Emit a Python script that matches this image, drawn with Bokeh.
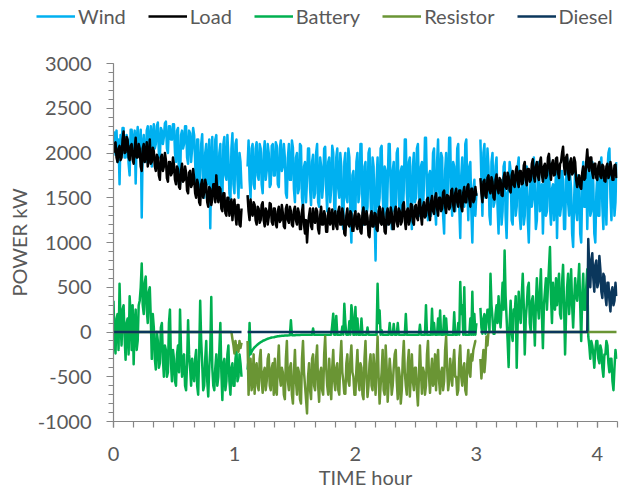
import numpy as np
from bokeh.plotting import figure
from bokeh.models import Range1d, FixedTicker, Legend, LegendItem
from bokeh.embed import file_html
from bokeh.resources import INLINE

# ---------------- data: 30-second samples (120 per hour), 500 samples ----------------
samples_per_hour = 120

wind = [
    2050, 2230, 1980, 2250, 1900, 2150, 1650, 2200, 2100, 2280, 2280, 1950, 1950, 2200, 2150, 1880, 1750, 2260, 2260, 2050,
    2100, 2250, 1660, 2150, 2290, 2000, 2000, 2260, 1280, 2100, 2200, 1950, 1900, 2250, 2300, 2100, 2080, 2300, 1850, 2200,
    2320, 2050, 2100, 2300, 2340, 2000, 1950, 2280, 2250, 2100, 2180, 2330, 2350, 2050, 2000, 2300, 2300, 2150, 2150, 2320,
    2320, 2000, 1900, 2250, 2280, 1650, 1650, 2200, 2250, 2050, 2100, 2300, 2300, 1950, 1880, 2250, 2220, 1900, 2050, 2280,
    2200, 1900, 1600, 2150, 2150, 1550, 1750, 2100, 2210, 1700, 1500, 2000, 2100, 1650, 1850, 2150, 1160, 1900, 2180, 1600,
    1550, 2150, 2200, 1600, 1650, 2000, 2100, 1500, 1450, 2100, 2180, 1750, 1700, 2200, 1950, 1550, 1480, 2050, 2220, 1650,
    1550, 2100, 2150, 1700, 1500, 2000, 1900, 1600, None, None, None, None, None, 1850, 2140, 1700, 1500, 2050, 2100, 1650,
    1600, 2050, 2120, 1750, 1700, 2100, 2050, 1650, 1550, 2000, 2130, 1700, 1800, 2100, 2000, 1620, 1650, 2080, 2100, 1750,
    1750, 2120, 2080, 1650, 1620, 2050, 2140, 1800, 1850, 2100, 1950, 1550, 1500, 1950, 2100, 1700, 1700, 2140, 2060, 1600,
    1450, 1950, 2000, 1550, 1600, 2100, 2080, 1500, 1380, 1850, 1900, 1450, 1700, 2050, 2050, 1600, 1420, 1900, 1980, 1500,
    1550, 2000, 2100, 1450, 1400, 1950, 1850, 1500, 1650, 2050, 2070, 1600, 1350, 1900, 1950, 1450, 1600, 2080, 2000, 1400,
    1300, 1950, 2050, 1600, 1500, 2000, 1850, 1250, 1150, 1900, 2000, 1500, 1450, 2050, 1950, 1300, 1000, 1750, 1800, 1350,
    1350, 1900, 2000, 1450, 1550, 2100, 2100, 1400, 1200, 1850, 1900, 1300, 1400, 2000, 2050, 1500, 1250, 1950, 1850, 1300,
    800, 1700, 1950, 1400, 1500, 2050, 2080, 1550, 1300, 1850, 1800, 1200, 1650, 2100, 2100, 1600, 1150, 1800, 1900, 1350,
    1400, 2000, 2050, 1500, 1250, 1800, 1850, 1300, 1600, 2150, 2150, 1550, 1350, 1900, 1950, 1400, 1150, 1850, 2000, 1450,
    1500, 2050, 2100, 1550, 1300, 1850, 1900, 1350, 1650, 2170, 2170, 1600, 1250, 1750, 1800, 1300, 1550, 2000, 2050, 1400,
    1200, 1900, 2150, 1600, 1450, 2000, 1950, 1300, 1100, 1800, 2000, 1500, 1600, 2170, 2170, 1550, 1300, 1900, 1850, 1350,
    1550, 2050, 2100, 1400, 1050, 1750, 1950, 1450, 1400, 2100, 2150, 1600, 1250, 1850, 1900, 1350, 1000, 1600, 1700, 1300,
    1550, None, None, None, 2150, 1700, 1300, 2000, 2100, 1500, 1600, 2050, 1850, 1300, 1200, 1900, 2000, 1400, 1450, 1850,
    1950, 1400, 1100, 1650, 1700, 1200, 1350, 1850, 1900, 1300, 1050, 1550, 1600, 1900, 1800, 1250, 1200, 1700, 1750, 1300,
    1400, 1850, 1950, 1300, 1150, 1600, 1650, 1200, 1300, 1800, 1850, 1250, 1000, 1500, 1750, 1400, 1500, 1950, 1600, 1150,
    1250, 1800, 1900, 1350, 1450, 1650, 1100, 1500, 1800, 1300, 1350, 1850, 1950, 1400, 1200, 1600, 1650, 1250, 1500, 1800,
    1050, 1600, 1850, 1300, 1400, 1800, 1700, 1150, 1150, 1700, 1950, 1450, 1300, 1750, 1600, 1100, 950, 1500, 1800, 1350,
    1250, 1750, 1700, 1100, 1000, 1600, 1900, 1400, 1400, 1850, 1150, 1650, 1850, 1300, 1350, 1900, 1650, 1100, 1000, 1550,
    1750, 1300, 1300, 1850, 1950, 1400, 1150, 1700, 1600, 1200, 1800, 2000, 2050, 1500, 1250, 1750, 1700, 1300, 1450, 1900,
]

load = [
    2000, 2100, 2120, 1950, 1900, 2050, 2080, 1920, 1950, 2150, 2240, 2000, 2010, 2180, 2150, 1950, 1920, 2080, 2100, 1930,
    1880, 2050, 2170, 1950, 1950, 2100, 2050, 1850, 1800, 2050, 2100, 1900, 2000, 2120, 1850, 1950, 2150, 1880, 1900, 2060,
    2020, 1850, 1800, 1980, 1950, 1750, 1700, 1950, 1980, 1800, 1850, 2000, 1920, 1720, 1680, 1900, 1900, 1750, 1780, 1950,
    1870, 1700, 1650, 1850, 1820, 1620, 1600, 1800, 1880, 1680, 1700, 1850, 1780, 1580, 1550, 1780, 1800, 1620, 1650, 1820,
    1720, 1550, 1500, 1700, 1650, 1450, 1420, 1650, 1700, 1500, 1560, 1700, 1640, 1450, 1400, 1620, 1600, 1420, 1480, 1650,
    1650, 1450, 1750, 1550, 1450, 1620, 1600, 1380, 1350, 1550, 1550, 1330, 1300, 1500, 1500, 1300, 1400, 1480, 1250, 1420,
    1480, 1300, 1200, 1420, 1420, 1200, 1180, 1380, None, None, None, None, None, 1530, 1350, 1250, 1480, 1330, 1300, 1450,
    1420, 1250, 1200, 1400, 1380, 1220, 1250, 1420, 1450, 1250, 1180, 1380, 1350, 1200, 1280, 1440, 1430, 1230, 1200, 1380,
    1380, 1200, 1170, 1350, 1400, 1230, 1250, 1420, 1330, 1180, 1160, 1380, 1420, 1250, 1220, 1400, 1350, 1200, 1180, 1360,
    1400, 1250, 1200, 1380, 1330, 1150, 1150, 1350, 1420, 1200, 1100, 1250, 1000, 1200, 1300, 1380, 1180, 1150, 1380, 1250,
    1220, 1380, 1350, 1150, 1100, 1300, 1400, 1200, 1200, 1350, 1300, 1120, 1120, 1330, 1380, 1200, 1250, 1370, 1150, 1300,
    1350, 1180, 1150, 1350, 1400, 1200, 1200, 1380, 1300, 1100, 1080, 1300, 1380, 1200, 1180, 1350, 1320, 1130, 1130, 1300,
    1350, 1180, 1150, 1320, 1300, 1120, 1100, 1330, 1390, 1200, 1200, 1350, 1280, 1080, 1060, 1300, 1350, 1180, 1180, 1330,
    1320, 1150, 1130, 1350, 1400, 1220, 1200, 1380, 1290, 1120, 1100, 1330, 1380, 1200, 1220, 1390, 1330, 1150, 1150, 1350,
    1400, 1230, 1180, 1380, 1350, 1200, 1230, 1420, 1450, 1250, 1150, 1350, 1380, 1200, 1250, 1430, 1420, 1230, 1200, 1400,
    1420, 1280, 1250, 1450, 1480, 1300, 1200, 1400, 1450, 1280, 1300, 1480, 1500, 1330, 1250, 1450, 1520, 1350, 1320, 1500,
    1550, 1380, 1300, 1500, 1500, 1350, 1380, 1560, 1580, 1400, 1330, 1530, 1520, 1370, 1400, 1580, 1600, 1420, 1350, 1550,
    1600, 1450, 1400, 1580, 1580, 1400, 1350, 1560, 1620, 1450, 1450, 1620, 1650, 1480, 1400, 1600, 1600, 1450, 1480, 1620,
    1520, None, None, None, 1720, 1550, 1450, 1680, 1700, 1520, 1500, 1720, 1750, 1580, 1550, 1730, 1680, 1500, 1480, 1700,
    1760, 1600, 1550, 1720, 1700, 1530, 1520, 1720, 1780, 1620, 1600, 1780, 1740, 1580, 1560, 1750, 1800, 1640, 1620, 1790,
    1850, 1680, 1620, 1800, 1800, 1650, 1660, 1860, 1900, 1700, 1640, 1820, 1820, 1680, 1700, 1880, 1930, 1740, 1680, 1850,
    1900, 1740, 1700, 1900, 1950, 1760, 1680, 1850, 1880, 1720, 1750, 1950, 1990, 1800, 1700, 1880, 1920, 1750, 1760, 1940,
    1950, 1780, 1720, 1880, 1900, 2000, 2070, 1850, 1760, 1950, 1980, 1780, 1700, 1900, 1940, 1760, 1780, 1950, 1900, 1700,
    1620, 1700, 1750, 1620, 1600, 1780, 1850, 1700, 1720, 1900, 2040, 1850, 1800, 1950, 1950, 1780, 1720, 1880, 1880, 1720,
    1700, 1860, 1900, 1740, 1720, 1870, 1850, 1690, 1680, 1850, 1880, 1720, 1750, 1900, 1830, 1700, 1700, 1860, 1870, 1720,
]

battery = [
    350, -100, -240, 150, 200, -200, 540, 100, -150, 250, 300, -50, -310, 100, 150, -250, 400, 200, -200, 300,
    -360, 100, 250, -200, -100, 300, 350, 500, 765, 300, 200, 550, 620, 250, 100, 450, 500, 150, -300, 200,
    50, -300, -420, 0, -100, -400, -350, 50, 100, -300, -500, -150, -200, -500, -450, 100, 250, -350, -550, -200,
    -300, -550, -600, -250, -150, -450, 250, -200, -500, -300, -250, -600, -650, -350, 130, -250, -400, -600, -300, -450,
    -550, -300, -200, -600, -700, -250, 350, -100, -350, -650, -600, -300, -100, -550, -720, -400, -200, 390, -400, -600,
    -650, -400, -250, -600, -500, -200, 100, -450, -760, -350, -300, -650, -550, -250, -150, -550, -700, -400, -350, -600,
    -600, -300, -200, -550, -500, -250, -350, -500, None, None, None, None, None, -420, -300, 100, -250, -220, -200, -185,
    -170, -160, -150, -140, -130, -122, -115, -108, -100, -95, -90, -85, -80, -76, -72, -68, -65, -62, -60, -58,
    -55, -52, -50, -48, -47, -45, -44, -43, -42, -41, -40, -39, -38, -38, -37, -37, 130, -36, -36, -35,
    -35, -34, -34, -33, -33, -33, -32, -32, -32, -31, -31, -31, -31, -30, -30, -30, -30, -30, 40, -30,
    -30, -30, -30, -30, -30, -30, -30, -30, -30, -30, -30, -30, -30, -30, -30, -30, -30, 80, 205, -30,
    -30, 180, -30, -30, -30, -30, -30, 60, -30, 315, 100, -30, -30, -30, 120, -30, 300, 200, -30, -30,
    280, -30, 150, -30, -30, -30, 150, -30, -30, -30, -30, -30, 50, -30, -30, -30, -30, -30, -30, -30,
    -30, -30, 540, 100, 240, -30, 20, -30, -30, -30, -30, -30, -30, -30, 100, -30, -30, -30, 90, -30,
    -30, -30, 100, -30, -30, -30, -30, -30, -30, -30, 200, -30, -30, -30, -30, -30, -30, -30, -30, -30,
    -30, -30, -30, -30, 80, -30, -30, -30, -30, -30, 300, -30, -30, -30, -30, -30, 260, -30, 100, -30,
    -30, -30, 150, -30, 240, -30, -30, -30, 180, -30, 150, -30, -30, -30, -30, -30, -30, -30, 220, -30,
    -30, -30, 100, -30, 560, 200, 300, -30, 500, -30, -30, -30, -30, -30, 150, -30, 450, -30, 200, -30,
    100, None, None, None, 270, 50, -20, 150, 200, -20, 100, 250, 250, 0, 650, 300, 150, -20, -20, 200,
    300, 100, 400, 200, 50, 300, 550, 250, 910, 400, 150, -100, -390, 100, 350, 0, -100, 250, 200, 400,
    -400, 100, 450, 200, 100, 400, 650, 300, -250, 150, 300, 500, 550, 100, 0, 350, 400, 200, -150, 300,
    600, 300, 150, 450, 700, 200, -180, 300, 450, 600, 250, 500, 720, 950, 400, 100, 550, 300, 250, 600,
    300, 500, 650, 200, 150, 550, 750, 300, -250, 200, 500, 650, 200, 400, 700, 300, 50, 350, 600, 400,
    350, 550, 760, 300, -100, 400, 650, 250, 250, 500, 700, -50, -150, -300, -100, -150, -250, -400, -200, -100,
    -100, -300, -350, -150, -200, -400, -500, -250, -250, -100, -150, -350, -450, -300, -300, -550, -650, -400, -200, -300,
]

resistor = (
    [0] * 100
    + [0] * 18 + [-80, -150]
    + [-240, -100, -200, -150, -220, -100, -180, -120, None, None, None, None, None, -100, -700, -400, -300, -650, -550, -250]
    + [-690, -400, -350, -600, -650, -300, -200, -550, -680, -450, -400, -650, -550, -300, -250, -600, -650, -400, -350, -700]
    + [-300, -650, -700, -350, -150, -500, -600, -400, -450, -700, -750, -300, -100, -550, -650, -400, -350, -700, -800, -450]
    + [-200, -550, -700, -400, -450, -750, -800, -300, -100, -450, -600, -750, -910, -500, -350, -650, -750, -300, -250, -600]
    + [-650, -300, -150, -600, -780, -450, -400, -650, -700, -250, -50, -400, -600, -700, -300, -550, -750, -400, -200, -550]
    + [-650, -400, -350, -650, -700, -300, -100, -450, -550, -690, -690, -350, -250, -550, -600, -300, -150, -450, -500, -700]
    + [-700, -400, -200, -550, -650, -350, -400, -700, -750, -300, -100, -500, -725, -600, -350, -250, -600, -650, -250, -450]
    + [-700, -350, -50, -500, -800, -600, -450, -200, -650, -700, -150, -400, -780, -550, -300, -450, -700, -600, -400, -250]
    + [-200, -550, -750, -400, -500, -800, -650, -300, -100, -450, -600, -700, -350, -200, -720, -500, -250, -550, -650, -400]
    + [-400, -650, -820, -500, -150, -450, -690, -400, -450, -700, -600, -250, -100, -500, -680, -450, -300, -600, -550, -250]
    + [-650, -350, -200, -550, -690, -450, -400, -650, -550, -200, -50, -400, -650, -550, -300, -450, -600, -350, -200, -500]
    + [-500, -700, -650, -300, -150, -500, -600, -400, -350, -650, -700, -350, -200, -450, -500, -250, -320, -200, -150, -100]
    + [-100, None, None, None, -300, -520, -350, -200, -450, -300, -50, -150, 0, 0, 0, 0, 0, 0, 0, 0]
    + [0] * 120
)

diesel = (
    [0] * 128 + [None] * 5 + [0] * 228 + [None] * 3 + [0] * 107
    + [1040, 700, 500, 800, 880, 600, 450, 750, 800, 500, 550, 850, 700, 450, 380,
       650, 620, 400, 300, 550, 550, 350, 230, 450, 500, 300, 350, 550, 400]
)

series_names = ["Wind", "Load", "Battery", "Resistor", "Diesel"]
series_colors = ["#00B0F0", "#000000", "#00B050", "#6A9534", "#0B375C"]

x_ticks = [0, 1, 2, 3, 4]
x_labels = ["0", "1", "2", "3", "4"]
x_minor_minutes = list(range(0, 251, 10))
y_ticks = [-1000, -500, 0, 500, 1000, 1500, 2000, 2500, 3000]
y_labels = ["-1000", "-500", "0", "500", "1000", "1500", "2000", "2500", "3000"]
x_title = "TIME hour"
y_title = "POWER kW"

# ---------------- styling constants ----------------
FONT = "Lato"
TXT = "#595959"
AX = "#868686"
X_END = 250 / 60
LW = 2.5
LEG_H = 40

# ---------------- legend strip (separate root, full-width frame) ----------------
leg_fig = figure(
    width=619, height=LEG_H, output_backend="svg", toolbar_location=None,
    x_range=Range1d(0, 1), y_range=Range1d(0, 1),
    min_border_left=0, min_border_right=0, min_border_top=0, min_border_bottom=0,
    x_axis_type=None, y_axis_type=None,
)
leg_fig.grid.visible = False
leg_fig.outline_line_color = None
leg_items = []
for name, col in zip(series_names, series_colors):
    # key renderer: its points lie below the strip's range, so only the legend key shows
    rr = leg_fig.line(x=[0, 1], y=[-5, -5], line_color=col, line_width=LW)
    leg_items.append(LegendItem(label=name, renderers=[rr]))
legend = Legend(
    items=leg_items,
    orientation="horizontal",
    location=(36, LEG_H - 28),
    glyph_width=39, glyph_height=24, label_height=24,
    label_standoff=3, spacing=22,
    padding=0, margin=0,
    border_line_alpha=0, background_fill_alpha=0,
    label_text_font=FONT, label_text_font_size="20px", label_text_color=TXT,
)
leg_fig.add_layout(legend)

# ---------------- main chart ----------------
p = figure(
    width=619, height=495 - LEG_H,
    output_backend="svg", toolbar_location=None,
    x_range=Range1d(0, X_END), y_range=Range1d(-1000, 3000),
    min_border_left=113, min_border_right=2,
    min_border_top=63 - LEG_H, min_border_bottom=74,
)
p.xgrid.visible = False
p.ygrid.visible = False
p.outline_line_color = None
p.background_fill_color = "white"

for name, col, vals in zip(series_names, series_colors,
                           [wind, load, battery, resistor, diesel]):
    y = np.array(vals, dtype=float)
    t = np.arange(len(y)) / samples_per_hour
    p.line(t, y, line_color=col, line_width=LW, line_join="round")

xa = p.xaxis[0]
ya = p.yaxis[0]
xa.ticker = FixedTicker(ticks=x_ticks, minor_ticks=[m / 60 for m in x_minor_minutes])
xa.major_label_overrides = {t: l for t, l in zip(x_ticks, x_labels)}
ya.ticker = FixedTicker(ticks=y_ticks, minor_ticks=list(range(-1000, 3001, 100)))
ya.major_label_overrides = {t: l for t, l in zip(y_ticks, y_labels)}

for ax in (xa, ya):
    ax.axis_line_color = AX
    ax.axis_line_width = 1.2
    ax.major_tick_line_color = AX
    ax.minor_tick_line_color = AX
    ax.major_tick_line_width = 1.2
    ax.minor_tick_line_width = 1.2
    ax.major_tick_in = 0
    ax.minor_tick_in = 0
    ax.major_label_text_font = FONT
    ax.major_label_text_font_size = "20px"
    ax.major_label_text_color = TXT
    ax.axis_label_text_font = FONT
    ax.axis_label_text_font_size = "20px"
    ax.axis_label_text_color = TXT
    ax.axis_label_text_font_style = "normal"

xa.major_tick_out = 6
xa.minor_tick_out = 6
xa.major_label_standoff = 19
xa.axis_label = x_title
xa.axis_label_standoff = 1

ya.major_tick_out = 7
ya.minor_tick_out = 5
ya.major_label_standoff = 15
ya.axis_label = y_title
ya.axis_label_standoff = 4

open("out.html", "w").write(file_html([leg_fig, p], INLINE))
